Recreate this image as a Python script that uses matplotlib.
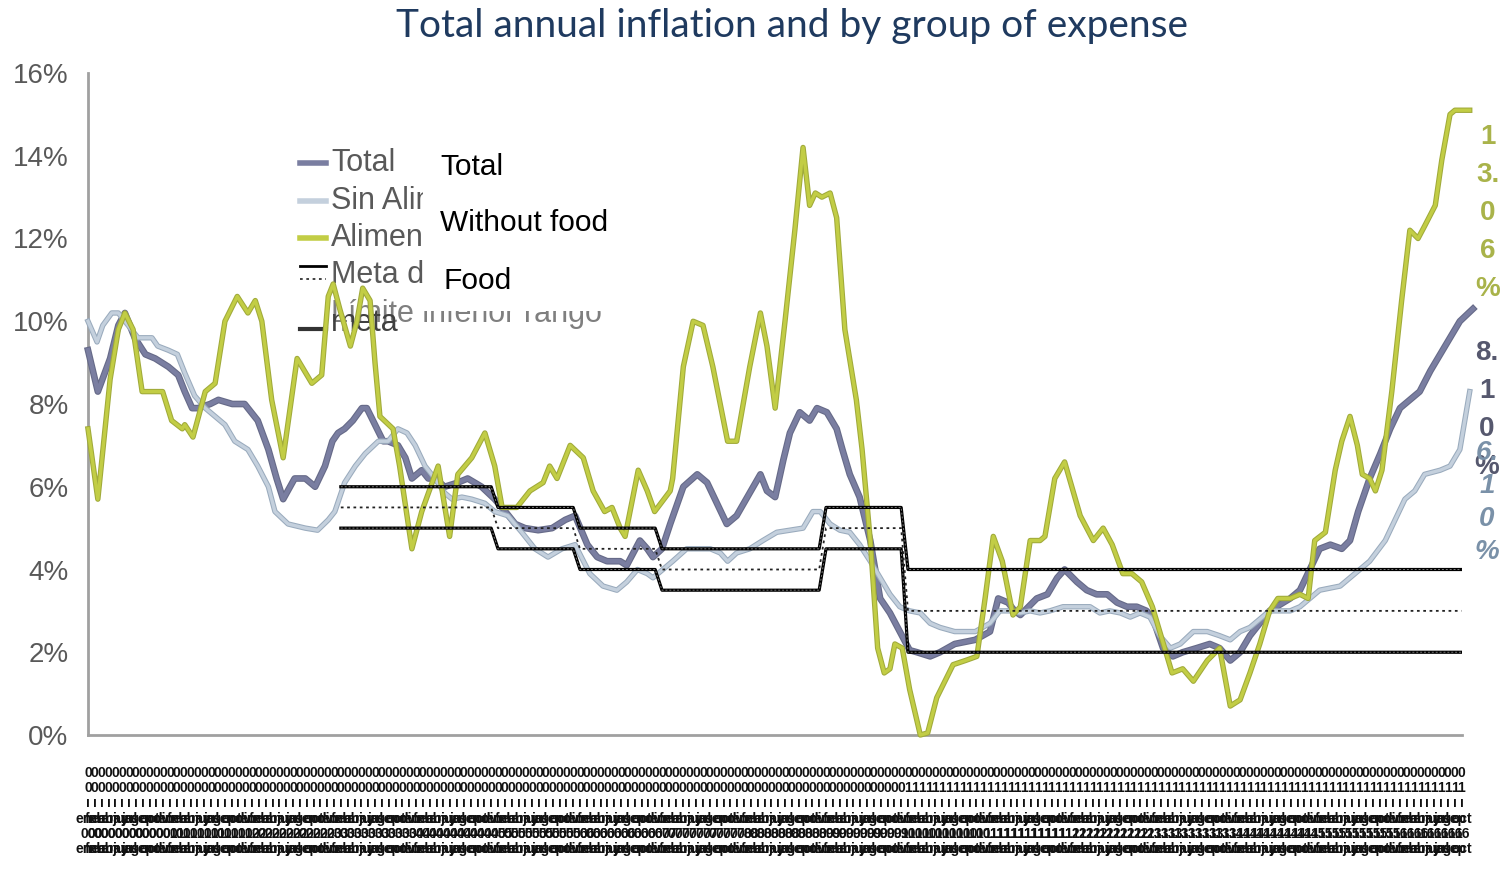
import matplotlib
matplotlib.use("Agg")
import matplotlib.pyplot as plt
import matplotlib.patheffects as pe
from matplotlib.lines import Line2D
from matplotlib.patches import Rectangle

plt.rcParams['font.family'] = ['Liberation Sans', 'DejaVu Sans']

# ---------------- data ----------------
food_t = [2000.00, 2000.12, 2000.27, 2000.37, 2000.45, 2000.55, 2000.66, 2000.82, 2000.91, 2001.02,
          2001.15, 2001.18, 2001.28, 2001.43, 2001.55, 2001.67, 2001.82, 2001.95, 2002.04, 2002.12,
          2002.24, 2002.38, 2002.55, 2002.73, 2002.85, 2002.93, 2002.99, 2003.07, 2003.20, 2003.28,
          2003.35, 2003.44, 2003.50, 2003.56, 2003.72, 2003.80, 2003.95, 2004.07, 2004.27, 2004.41,
          2004.51, 2004.68, 2004.84, 2004.96, 2005.05, 2005.23, 2005.39, 2005.55, 2005.63, 2005.72,
          2005.88, 2006.04, 2006.16, 2006.30, 2006.39, 2006.49, 2006.55, 2006.71, 2006.82, 2006.91,
          2007.10, 2007.13, 2007.26, 2007.38, 2007.50, 2007.62, 2007.80, 2007.91, 2008.07, 2008.20,
          2008.28, 2008.38, 2008.50, 2008.62, 2008.72, 2008.80, 2008.87, 2008.95, 2009.05, 2009.13,
          2009.23, 2009.37, 2009.44, 2009.54, 2009.63, 2009.71, 2009.78, 2009.84, 2009.93, 2010.02,
          2010.15, 2010.24, 2010.35, 2010.55, 2010.70, 2010.84, 2010.94, 2011.04, 2011.15, 2011.28,
          2011.37, 2011.49, 2011.61, 2011.67, 2011.79, 2011.91, 2012.10, 2012.26, 2012.38, 2012.49,
          2012.62, 2012.73, 2012.85, 2012.98, 2013.07, 2013.22, 2013.35, 2013.48, 2013.65, 2013.80,
          2013.93, 2014.05, 2014.17, 2014.29, 2014.41, 2014.51, 2014.66, 2014.78, 2014.88, 2014.96,
          2015.09, 2015.21, 2015.29, 2015.39, 2015.48, 2015.54, 2015.63, 2015.70, 2015.78, 2015.90,
          2016.02, 2016.12, 2016.22, 2016.30, 2016.43, 2016.51, 2016.61, 2016.67, 2016.85]
food_v = [7.4, 5.7, 8.6, 9.8, 10.2, 9.8, 8.3, 8.3, 8.3, 7.6,
          7.4, 7.5, 7.2, 8.3, 8.5, 10.0, 10.6, 10.2, 10.5, 10.0,
          8.1, 6.7, 9.1, 8.5, 8.7, 10.6, 10.9, 10.3, 9.4, 10.0,
          10.8, 10.5, 9.0, 7.7, 7.4, 6.5, 4.5, 5.4, 6.5, 4.8,
          6.3, 6.7, 7.3, 6.5, 5.5, 5.5, 5.9, 6.1, 6.5, 6.2,
          7.0, 6.7, 5.9, 5.4, 5.5, 5.0, 4.8, 6.4, 5.9, 5.4,
          5.9, 6.2, 8.9, 10.0, 9.9, 8.9, 7.1, 7.1, 8.9, 10.2,
          9.4, 7.9, 10.0, 12.2, 14.2, 12.8, 13.1, 13.0, 13.1, 12.5,
          9.8, 8.1, 6.9, 4.7, 2.1, 1.5, 1.6, 2.2, 2.1, 1.1,
          0.0, 0.05, 0.9, 1.7, 1.8, 1.9, 3.3, 4.8, 4.2, 2.9,
          3.1, 4.7, 4.7, 4.8, 6.2, 6.6, 5.3, 4.7, 5.0, 4.6,
          3.9, 3.9, 3.7, 3.1, 2.5, 1.5, 1.6, 1.3, 1.8, 2.1,
          0.7, 0.85, 1.5, 2.2, 3.0, 3.3, 3.3, 3.4, 3.3, 4.7,
          4.9, 6.4, 7.1, 7.7, 7.0, 6.3, 6.2, 5.9, 6.4, 8.3,
          10.5, 12.2, 12.0, 12.3, 12.8, 13.9, 15.0, 15.1, 15.1]

total_t = [2000.00, 2000.12, 2000.27, 2000.37, 2000.45, 2000.57, 2000.70, 2000.82, 2000.98, 2001.10,
           2001.18, 2001.27, 2001.34, 2001.49, 2001.59, 2001.76, 2001.91, 2002.07, 2002.20, 2002.30,
           2002.38, 2002.52, 2002.65, 2002.77, 2002.89, 2002.98, 2003.05, 2003.13, 2003.23, 2003.34,
           2003.40, 2003.50, 2003.60, 2003.66, 2003.78, 2003.87, 2003.95, 2004.07, 2004.15, 2004.23,
           2004.35, 2004.51, 2004.63, 2004.80, 2004.96, 2005.09, 2005.21, 2005.33, 2005.49, 2005.66,
           2005.82, 2005.94, 2006.09, 2006.21, 2006.33, 2006.49, 2006.57, 2006.73, 2006.82, 2006.89,
           2007.00, 2007.10, 2007.26, 2007.43, 2007.55, 2007.67, 2007.79, 2007.91, 2008.04, 2008.20,
           2008.28, 2008.38, 2008.48, 2008.56, 2008.68, 2008.80, 2008.89, 2009.01, 2009.13, 2009.20,
           2009.29, 2009.41, 2009.54, 2009.66, 2009.78, 2009.90, 2010.02, 2010.11, 2010.27, 2010.39,
           2010.57, 2010.82, 2011.00, 2011.10, 2011.22, 2011.30, 2011.37, 2011.57, 2011.70, 2011.82,
           2011.91, 2012.06, 2012.18, 2012.30, 2012.43, 2012.55, 2012.67, 2012.79, 2012.91, 2012.99,
           2013.11, 2013.23, 2013.35, 2013.52, 2013.68, 2013.80, 2013.93, 2014.05, 2014.17, 2014.41,
           2014.66, 2014.78, 2014.90, 2015.02, 2015.15, 2015.29, 2015.39, 2015.49, 2015.63, 2015.76,
           2015.88, 2016.00, 2016.12, 2016.24, 2016.37, 2016.55, 2016.73, 2016.89]
total_v = [9.3, 8.3, 9.1, 9.9, 10.2, 9.6, 9.2, 9.1, 8.9, 8.7,
           8.3, 7.9, 7.9, 8.0, 8.1, 8.0, 8.0, 7.6, 6.9, 6.2,
           5.7, 6.2, 6.2, 6.0, 6.5, 7.1, 7.3, 7.4, 7.6, 7.9,
           7.9, 7.5, 7.1, 7.1, 7.0, 6.7, 6.2, 6.4, 6.2, 6.2,
           6.0, 6.1, 6.2, 6.0, 5.7, 5.4, 5.1, 5.0, 4.95, 5.0,
           5.2, 5.3, 4.6, 4.3, 4.2, 4.2, 4.1, 4.7, 4.5, 4.3,
           4.5, 5.1, 6.0, 6.3, 6.1, 5.6, 5.1, 5.3, 5.75, 6.3,
           5.9, 5.75, 6.65, 7.3, 7.8, 7.6, 7.9, 7.8, 7.4, 6.9,
           6.3, 5.75, 4.7, 3.3, 2.95, 2.5, 2.05, 2.0, 1.9, 2.0,
           2.2, 2.3, 2.5, 3.3, 3.2, 3.0, 2.9, 3.3, 3.4, 3.8,
           4.0, 3.7, 3.5, 3.4, 3.4, 3.2, 3.1, 3.1, 3.0, 2.8,
           2.1, 1.9, 2.0, 2.1, 2.2, 2.1, 1.8, 2.0, 2.4, 3.0,
           3.3, 3.5, 4.0, 4.5, 4.6, 4.5, 4.7, 5.4, 6.2, 6.8,
           7.4, 7.9, 8.1, 8.3, 8.8, 9.4, 10.0, 10.3]

sinalim_t = [2000.00, 2000.11, 2000.18, 2000.29, 2000.37, 2000.49, 2000.61, 2000.78, 2000.85, 2000.98,
             2001.09, 2001.18, 2001.30, 2001.43, 2001.55, 2001.67, 2001.79, 2001.95, 2002.07, 2002.20,
             2002.28, 2002.44, 2002.65, 2002.80, 2002.93, 2003.01, 2003.13, 2003.26, 2003.38, 2003.54,
             2003.66, 2003.78, 2003.89, 2003.99, 2004.11, 2004.23, 2004.35, 2004.44, 2004.56, 2004.68,
             2004.84, 2004.96, 2005.12, 2005.29, 2005.45, 2005.61, 2005.78, 2005.94, 2006.12, 2006.28,
             2006.45, 2006.57, 2006.70, 2006.82, 2006.89, 2007.01, 2007.13, 2007.30, 2007.43, 2007.59,
             2007.71, 2007.80, 2007.91, 2008.07, 2008.23, 2008.40, 2008.56, 2008.72, 2008.84, 2008.93,
             2009.05, 2009.17, 2009.29, 2009.41, 2009.54, 2009.66, 2009.78, 2009.90, 2010.02, 2010.15,
             2010.27, 2010.39, 2010.57, 2010.82, 2011.00, 2011.12, 2011.24, 2011.37, 2011.49, 2011.61,
             2011.73, 2011.89, 2012.06, 2012.22, 2012.34, 2012.46, 2012.59, 2012.71, 2012.83, 2012.95,
             2013.07, 2013.20, 2013.32, 2013.48, 2013.65, 2013.80, 2013.93, 2014.05, 2014.17, 2014.41,
             2014.66, 2014.78, 2014.90, 2015.02, 2015.27, 2015.45, 2015.63, 2015.82, 2015.94, 2016.06,
             2016.18, 2016.30, 2016.49, 2016.61, 2016.73, 2016.85]
sinalim_v = [10.0, 9.5, 9.9, 10.2, 10.2, 9.9, 9.6, 9.6, 9.4, 9.3,
             9.2, 8.75, 8.2, 7.9, 7.7, 7.5, 7.1, 6.9, 6.5, 6.0,
             5.4, 5.1, 5.0, 4.95, 5.2, 5.4, 6.1, 6.5, 6.8, 7.1,
             7.1, 7.4, 7.3, 7.0, 6.5, 6.2, 5.85, 5.7, 5.75, 5.7,
             5.6, 5.4, 5.3, 4.9, 4.5, 4.3, 4.5, 4.6, 3.9, 3.6,
             3.5, 3.7, 4.0, 3.9, 3.8, 4.0, 4.2, 4.5, 4.5, 4.5,
             4.4, 4.2, 4.4, 4.5, 4.7, 4.9, 4.95, 5.0, 5.4, 5.4,
             5.1, 4.95, 4.9, 4.6, 4.2, 3.8, 3.4, 3.1, 3.0, 2.95,
             2.7, 2.6, 2.5, 2.5, 2.7, 3.0, 3.0, 2.95, 3.0, 2.95,
             3.0, 3.1, 3.1, 3.1, 2.95, 3.0, 2.95, 2.85, 2.95, 2.85,
             2.4, 2.1, 2.2, 2.5, 2.5, 2.4, 2.3, 2.5, 2.6, 3.0,
             3.0, 3.1, 3.3, 3.5, 3.6, 3.9, 4.2, 4.7, 5.2, 5.7,
             5.9, 6.3, 6.4, 6.5, 6.9, 8.3]

# inflation target by year (upper, centre, lower)
meta_years = [2003, 2004, 2005, 2006, 2007, 2008, 2009, 2010, 2011, 2012, 2013, 2014, 2015, 2016]
meta_sup = [6.0, 6.0, 5.5, 5.0, 4.5, 4.5, 5.5, 4.0, 4.0, 4.0, 4.0, 4.0, 4.0, 4.0]
meta_centro = [5.5, 5.5, 5.0, 4.5, 4.0, 4.0, 5.0, 3.0, 3.0, 3.0, 3.0, 3.0, 3.0, 3.0]
meta_inf = [5.0, 5.0, 4.5, 4.0, 3.5, 3.5, 4.5, 2.0, 2.0, 2.0, 2.0, 2.0, 2.0, 2.0]
meta_first, meta_last = 2003 + 1 / 12, 2016.75

y_ticks = [0, 2, 4, 6, 8, 10, 12, 14, 16]
meses = ['ene', 'feb', 'mar', 'abr', 'may', 'jun', 'jul', 'ago', 'sep', 'oct', 'nov', 'dic']
first_year, n_months = 2000, 202

title = 'Total annual inflation and by group of expense'
leg_es = ['Total', 'Sin Alimentos', 'Alimentos', 'Meta de inflación', 'Límite inferior rango', 'meta']
leg_en = ['Total', 'Without food', 'Food']
end_food, end_total, end_sinalim = '1\n3.\n0\n6\n%', '8.\n1\n0\n%', '6.\n1\n0\n%'

# ---------------- figure ----------------
W, H = 1508, 871
fig = plt.figure(figsize=(W / 100, H / 100), dpi=100)
ax = fig.add_axes([88 / W, (H - 735) / H, 1374 / W, 662 / H])
tr = fig.dpi_scale_trans


def P(x, y):
    return x / 100, (H - y) / 100


c_total, e_total = '#7a7ea1', '#666a88'
c_sin, e_sin = '#c4d0dd', '#9aabbd'
c_food, e_food = '#c2cd45', '#a0aa3a'

ax.plot(total_t, total_v, color=c_total, lw=3.2, zorder=3, clip_on=False,
        solid_joinstyle='round', path_effects=[pe.Stroke(linewidth=4.8, foreground=e_total), pe.Normal()])
ax.plot(sinalim_t, sinalim_v, color=c_sin, lw=2.4, zorder=4, clip_on=False,
        solid_joinstyle='round', path_effects=[pe.Stroke(linewidth=3.9, foreground=e_sin), pe.Normal()])
ax.plot(food_t, food_v, color=c_food, lw=2.4, zorder=5, clip_on=False,
        solid_joinstyle='round', path_effects=[pe.Stroke(linewidth=3.9, foreground=e_food), pe.Normal()])

mt, ms, mc, mi = [], [], [], []
for yr, s, c, i in zip(meta_years, meta_sup, meta_centro, meta_inf):
    for m in range(12):
        t = yr + m / 12
        if meta_first - 1e-9 <= t <= meta_last + 1e-9:
            mt.append(t); ms.append(s); mc.append(c); mi.append(i)
for vals in (ms, mi):
    ax.plot(mt, vals, color='black', lw=2.3, zorder=6)
    ax.plot(mt, vals, color='#777777', lw=0.7, ls=(0, (2, 2)), zorder=7)
ax.plot(mt, mc, color='#222222', lw=1.3, ls=(0, (1.5, 2)), zorder=6)

ax.set_xlim(first_year, first_year + 1374 / 82)
ax.set_ylim(0, 16)
ax.set_yticks(y_ticks)
ax.set_yticklabels([f'{v}%' for v in y_ticks], fontsize=20, color='#595959')

# monthly category labels (multi-level, squeezed as in the original)
xt = [first_year + k / 12 for k in range(n_months)]
xl = []
for k in range(n_months):
    yr = first_year + k // 12
    mes = meses[k % 12]
    xl.append(f'0\n{(yr % 100) // 10}\nı\n{mes}\n{yr % 100:02d}\n{mes}')
ax.set_xticks(xt)
ax.set_xticklabels(xl, fontsize=10, linespacing=1.12, color='#111111', fontweight='bold')
ax.tick_params(axis='x', length=0, pad=22)
ax.tick_params(axis='y', length=0, pad=14)
for s in ('top', 'right'):
    ax.spines[s].set_visible(False)
for s in ('left', 'bottom'):
    ax.spines[s].set_color('#a0a0a0')
    ax.spines[s].set_linewidth(2)

# title
fig.text(792 / W, 1 - 26 / H, title, ha='center', va='center', fontsize=28,
         family=['Lato', 'DejaVu Sans'], color='#1f3a5f')

# original (Spanish) legend, partly covered
gray = '#595959'
rows = [163, 201, 238, 275]
for y, col in zip(rows[:3], [c_total, c_sin, c_food]):
    ax.add_line(Line2D([300 / 100, 326 / 100], [(H - y) / 100] * 2, transform=tr, color=col,
                       lw=4, clip_on=False, zorder=1))
for y, lab in zip(rows, leg_es[:4]):
    ax.text(*P(331, y), lab, transform=tr, fontsize=22, color=gray, va='center', ha='left', zorder=1)
ax.add_line(Line2D([300 / 100, 326 / 100], [(H - 266) / 100] * 2, transform=tr, color='black',
                   lw=2, clip_on=False, zorder=1))
ax.add_line(Line2D([300 / 100, 326 / 100], [(H - 279) / 100] * 2, transform=tr, color='#333333',
                   lw=1.3, ls=(0, (1.5, 2)), clip_on=False, zorder=1))
ax.text(*P(331, 314), leg_es[4], transform=tr, fontsize=22, color='#7f7f7f', va='center', ha='left', zorder=1)
ax.text(*P(331, 323), leg_es[5], transform=tr, fontsize=22, color='#404040', va='center', ha='left', zorder=1)
ax.add_line(Line2D([300 / 100, 326 / 100], [(H - 329) / 100] * 2, transform=tr, color='#333333',
                   lw=3, clip_on=False, zorder=1))

# white cover with English legend
fig.add_artist(Rectangle(P(423, 311), 220 / 100, 171 / 100, transform=tr,
                         facecolor='white', edgecolor='none', zorder=10))
for (x, y), lab in zip([(440, 167), (440, 223), (443, 281)], leg_en):
    fig.text(*P(x, y), lab, transform=tr, fontsize=21.5, color='black', va='center', ha='left', zorder=11)

# vertical end labels
fig.text(*P(1488, 124), end_food, transform=tr, fontsize=20, fontweight='bold', color='#a9b34a',
         ha='center', va='top', linespacing=1.6, zorder=11)
fig.text(*P(1487, 340), end_total, transform=tr, fontsize=20, fontweight='bold', color='#56586e',
         ha='center', va='top', linespacing=1.6, zorder=11)
fig.text(*P(1487, 440), end_sinalim, transform=tr, fontsize=20, fontweight='bold', fontstyle='italic',
         color='#7a91a8', ha='center', va='top', linespacing=1.35, zorder=11)

fig.savefig('out.png', dpi=100)
